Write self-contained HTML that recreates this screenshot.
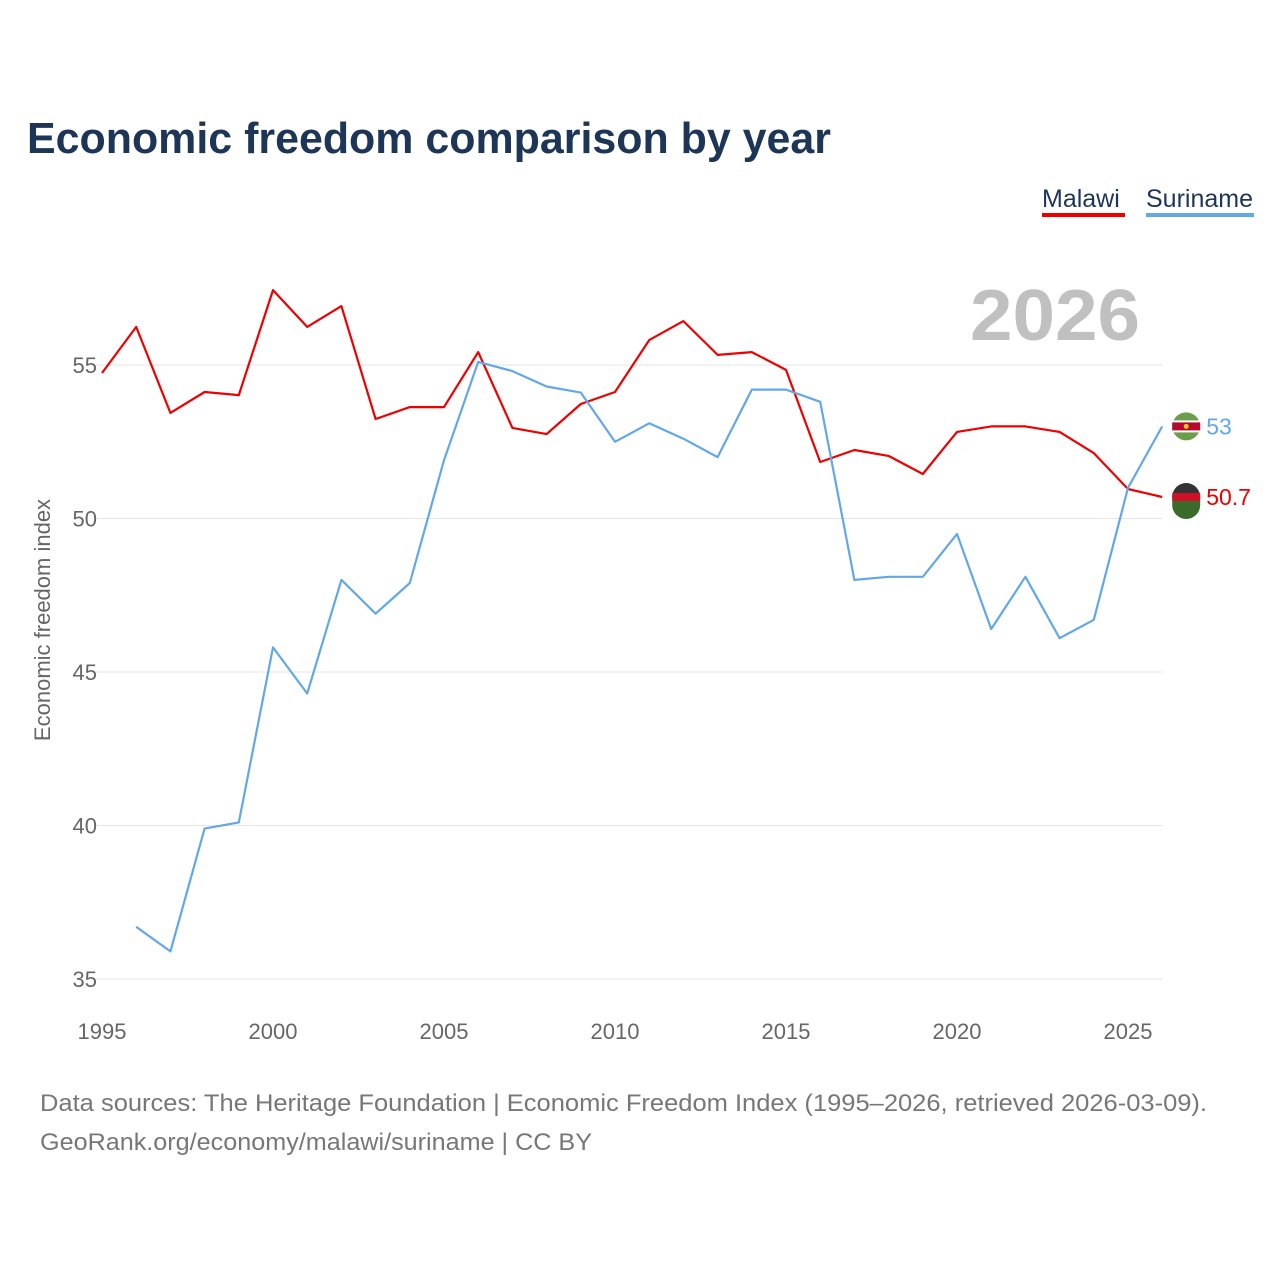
<!DOCTYPE html>
<html><head><meta charset="utf-8">
<style>
html,body{margin:0;padding:0;background:#fff;width:1280px;height:1280px;overflow:hidden;font-family:"Liberation Sans",sans-serif}
</style></head>
<body>
<svg id="chart" width="1280" height="1280" viewBox="0 0 1280 1280" xmlns="http://www.w3.org/2000/svg">
<text x="27" y="153" font-size="44" font-weight="bold" fill="#1d3557" textLength="804" lengthAdjust="spacingAndGlyphs">Economic freedom comparison by year</text>
<g>
<text x="1042" y="207" font-size="25" fill="#1d3557">Malawi</text>
<rect x="1042" y="213" width="83" height="4" fill="#ee0000"/>
</g>
<g>
<text x="1146" y="207" font-size="25" fill="#1d3557">Suriname</text>
<rect x="1146" y="213" width="108" height="4" fill="#62a8e8"/>
</g>
<text x="970" y="340" font-size="72" font-weight="bold" fill="#c0c0c0" textLength="170" lengthAdjust="spacingAndGlyphs">2026</text>
<text transform="translate(50,620) rotate(-90)" font-size="22" fill="#666" text-anchor="middle">Economic freedom index</text>
<g id="grid"></g><g id="xticks"></g><g id="lines"></g>
<text x="40" y="1111" font-size="24" fill="#777" textLength="1167" lengthAdjust="spacingAndGlyphs">Data sources: The Heritage Foundation | Economic Freedom Index (1995–2026, retrieved 2026-03-09).</text>
<text x="40" y="1150" font-size="24" fill="#777" textLength="552" lengthAdjust="spacingAndGlyphs">GeoRank.org/economy/malawi/suriname | CC BY</text>
</svg>
<script>
const years = [1995,1996,1997,1998,1999,2000,2001,2002,2003,2004,2005,2006,2007,2008,2009,2010,2011,2012,2013,2014,2015,2016,2017,2018,2019,2020,2021,2022,2023,2024,2025,2026];
const malawi = [54.74,56.24,53.44,54.12,54.02,57.44,56.24,56.92,53.24,53.63,53.63,55.42,52.95,52.75,53.73,54.12,55.81,56.43,55.33,55.42,54.84,51.84,52.23,52.04,51.45,52.82,53.0,53.0,52.82,52.13,50.96,50.7];
const suriname = [null,36.7,35.9,39.9,40.1,45.8,44.3,48.0,46.9,47.9,51.9,55.1,54.8,54.3,54.1,52.5,53.1,52.6,52.0,54.2,54.2,53.8,48.0,48.1,48.1,49.5,46.4,48.1,46.1,46.7,51.0,53.0];
const yTicks = [35,40,45,50,55];
const xTicks = [1995,2000,2005,2010,2015,2020,2025];
const NS="http://www.w3.org/2000/svg";
const X = y => 102 + (y-1995)*34.2;
const Y = v => 365 - (v-55)*30.7;
function mk(tag, attrs, parent){const e=document.createElementNS(NS,tag);for(const k in attrs)e.setAttribute(k,attrs[k]);parent.appendChild(e);return e;}
const grid=document.getElementById('grid');
yTicks.forEach(t=>{
  const l=mk('line',{x1:95,x2:1162,y1:Y(t),y2:Y(t),stroke:'#e6e6e6','stroke-width':1},grid);
  
  
  const tx=mk('text',{x:97,y:Y(t)+8,'font-size':22,fill:'#666','text-anchor':'end'},grid);
  tx.textContent=t;
  
  
});
const xt=document.getElementById('xticks');
xTicks.forEach(t=>{
  const tx=mk('text',{x:X(t),y:1039,'font-size':22,fill:'#666','text-anchor':'middle'},xt);
  tx.textContent=t;
  
  
});
const lines=document.getElementById('lines');
function draw(vals,color,name){
  let d='';
  vals.forEach((v,i)=>{if(v==null)return;d+=(d?'L':'M')+X(years[i]).toFixed(1)+','+Y(v).toFixed(1);});
  const p=mk('path',{d:d,fill:'none',stroke:color,'stroke-width':2.2,'stroke-linejoin':'round'},lines);
  
  
  const last=vals[vals.length-1];
  const lx=X(years[years.length-1]), ly=Y(last);
  const c=mk('circle',{cx:lx+24,cy:ly,r:14,fill:name==='malawi'?'#333':'#6a9e4a'},lines);
  
  
  if(name==='malawi'){
    mk('rect',{x:lx+10,y:ly-4,width:28,height:8,fill:'#ce1126'},lines);
    mk('path',{d:`M${lx+10},${ly+4} h28 v4 a14,14 0 0 1 -28,0z`,fill:'#3b6b2a'},lines);
  } else {
    mk('rect',{x:lx+10,y:ly-6,width:28,height:12,fill:'#fff'},lines);
    mk('rect',{x:lx+10,y:ly-4,width:28,height:8,fill:'#b40a2d'},lines);
    mk('circle',{cx:lx+24,cy:ly,r:2.5,fill:'#ecc81d'},lines);
  }
  const t=mk('text',{x:lx+44,y:ly+8,'font-size':23,fill:color},lines);
  t.textContent=last;
  
  
}
draw(malawi,'#ee0000','malawi');
draw(suriname,'#62a8e8','suriname');
</script>
</body></html>
